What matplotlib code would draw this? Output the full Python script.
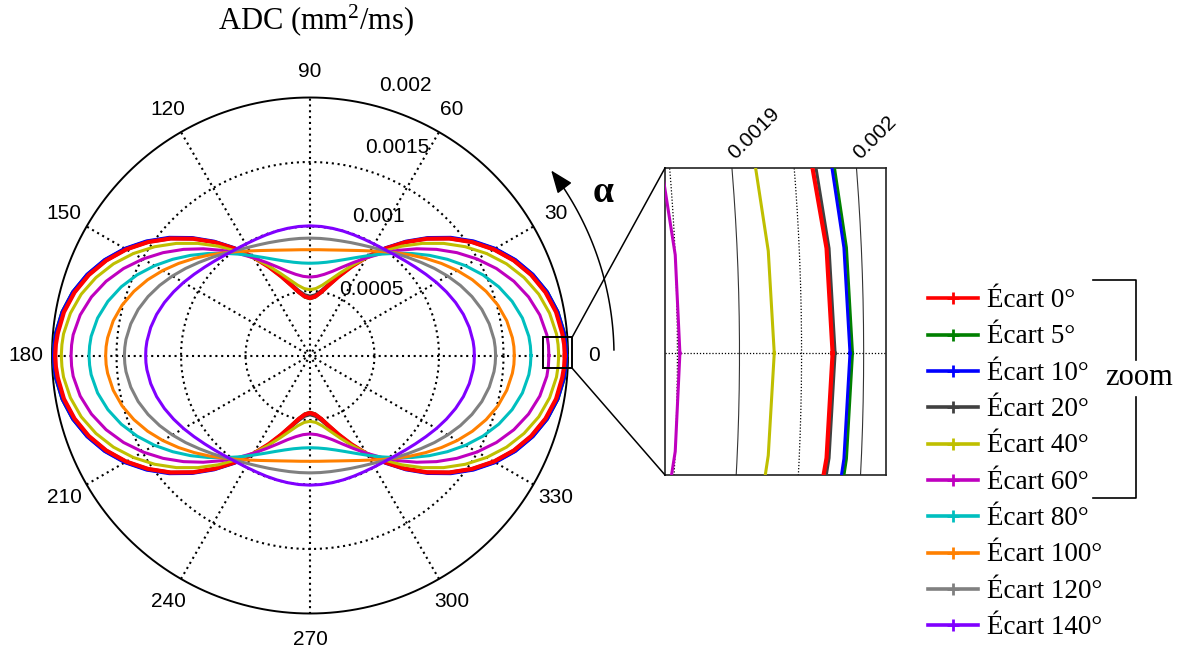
import numpy as np
import matplotlib
matplotlib.use("Agg")
import matplotlib.pyplot as plt
from matplotlib.patches import FancyArrowPatch, Rectangle
from matplotlib.path import Path
from matplotlib import transforms as mtrans

plt.rcParams["mathtext.fontset"] = "custom"
plt.rcParams["mathtext.rm"] = "Liberation Serif"
plt.rcParams["mathtext.it"] = "Liberation Serif:italic"
plt.rcParams["mathtext.bf"] = "Liberation Serif:bold"

# ---------------------------------------------------------------------------
# Data: ADC profiles versus the orientation angle alpha, one quadrant
# (the profiles are symmetric about both axes). Values in 1e-4 mm^2/ms.
# ---------------------------------------------------------------------------
UNIT = 1e-4
alpha_deg = [0, 2.5, 5, 10, 15, 20, 25, 30, 35, 40, 45, 50, 55, 60, 65, 70, 75, 80, 85, 90]

labels = ["Écart 0°", "Écart 5°", "Écart 10°", "Écart 20°", "Écart 40°",
          "Écart 60°", "Écart 80°", "Écart 100°", "Écart 120°", "Écart 140°"]

adc_ecart0 = [19.75, 19.72, 19.63, 19.37, 18.90, 18.25, 17.43, 16.45, 15.33, 14.11, 12.80,
              11.45, 10.10, 8.80, 7.59, 6.53, 5.65, 4.99, 4.59, 4.45]
adc_ecart5 = [19.91, 19.88, 19.81, 19.52, 19.05, 18.38, 17.55, 16.56, 15.43, 14.18, 12.86,
              11.49, 10.12, 8.80, 7.58, 6.50, 5.61, 4.95, 4.54, 4.40]
adc_ecart10 = [19.89, 19.86, 19.79, 19.51, 19.05, 18.40, 17.58, 16.60, 15.48, 14.25, 12.93,
               11.57, 10.20, 8.88, 7.65, 6.57, 5.67, 5.00, 4.59, 4.45]
adc_ecart20 = [19.77, 19.74, 19.66, 19.38, 18.90, 18.24, 17.41, 16.43, 15.31, 14.08, 12.79,
               11.45, 10.12, 8.84, 7.66, 6.62, 5.77, 5.13, 4.73, 4.60]
adc_ecart40 = [19.28, 19.25, 19.18, 18.86, 18.36, 17.66, 16.81, 15.81, 14.70, 13.52, 12.29,
               11.06, 9.85, 8.72, 7.69, 6.80, 6.08, 5.54, 5.21, 5.10]
adc_ecart60 = [18.52, 18.50, 18.43, 18.09, 17.54, 16.82, 15.95, 14.96, 13.90, 12.80, 11.70,
               10.64, 9.64, 8.74, 7.95, 7.29, 6.76, 6.39, 6.16, 6.08]
adc_ecart80 = [17.13, 17.10, 17.03, 16.72, 16.22, 15.57, 14.79, 13.92, 13.00, 12.08, 11.18,
               10.34, 9.59, 8.93, 8.37, 7.92, 7.58, 7.34, 7.20, 7.15]
adc_ecart100 = [15.84, 15.82, 15.75, 15.49, 15.08, 14.53, 13.89, 13.18, 12.44, 11.71, 11.02,
                10.39, 9.83, 9.36, 8.98, 8.68, 8.46, 8.31, 8.23, 8.20]
adc_ecart120 = [14.39, 14.37, 14.32, 14.11, 13.79, 13.36, 12.86, 12.32, 11.77, 11.23, 10.75,
                10.32, 9.96, 9.67, 9.46, 9.31, 9.20, 9.14, 9.11, 9.10]
adc_ecart140 = [12.74, 12.73, 12.69, 12.54, 12.31, 12.01, 11.67, 11.32, 10.97, 10.66, 10.40,
                10.19, 10.05, 9.97, 9.94, 9.95, 9.98, 10.01, 10.04, 10.05]

series = [adc_ecart0, adc_ecart5, adc_ecart10, adc_ecart20, adc_ecart40,
          adc_ecart60, adc_ecart80, adc_ecart100, adc_ecart120, adc_ecart140]

colors = ["#ff0000", "#008000", "#0000ff", "#404040", "#bfbf00",
          "#bf00bf", "#00bfbf", "#ff8000", "#808080", "#8000ff"]
widths = [3.0, 2.2, 2.2, 2.2, 2.2, 2.2, 2.2, 2.2, 2.2, 2.2]
# red is drawn above the nearly coincident 5/10/20 degree curves
draw_order = [1, 2, 3, 0, 4, 5, 6, 7, 8, 9]

ring_values = [0.0005, 0.001, 0.0015, 0.002]
ring_labels = ["0.0005", "0.001", "0.0015", "0.002"]
angle_ticks = list(range(0, 360, 30))

inset_rings_solid = [0.0019, 0.002]
inset_rings_dotted = [0.00185, 0.00195]
inset_tick_labels = ["0.0019", "0.002"]


def full_profile(quarter_deg, quarter_r):
    """Unfold a 0-90 degree profile to the whole circle using its symmetries."""
    a = np.asarray(quarter_deg, float)
    r = np.asarray(quarter_r, float) * UNIT
    th = np.concatenate([a, 180 - a[::-1][1:], 180 + a[1:], 360 - a[::-1][1:]])
    rr = np.concatenate([r, r[::-1][1:], r[1:], r[::-1][1:]])
    t = np.deg2rad(th)
    return rr * np.cos(t), rr * np.sin(t)


# ---------------------------------------------------------------------------
W, H = 1184, 655
fig = plt.figure(figsize=(W / 100, H / 100), dpi=100)

SANS = ["Liberation Sans", "DejaVu Sans"]
SERIF = ["Liberation Serif", "DejaVu Serif"]

# polar diagram drawn on an equal-scale cartesian axes spanning the figure
CX, CY = 310.0, 355.5          # centre in pixels (from top-left)
RMAX = ring_values[-1]
S = 258.0 / RMAX               # pixels per mm^2/ms
ax = fig.add_axes([0, 0, 1, 1])
ax.set_xlim(-CX / S, (W - CX) / S)
ax.set_ylim(-(H - CY) / S, CY / S)
ax.axis("off")

dotted = (0, (1.0, 1.8))
circ = np.linspace(0, 2 * np.pi, 721)
for rv in ring_values[:-1]:
    ax.plot(rv * np.cos(circ), rv * np.sin(circ), color="k", lw=1.5,
            linestyle=dotted, zorder=1)
ax.plot(RMAX * np.cos(circ), RMAX * np.sin(circ), color="k", lw=1.4, zorder=1)
for ang in range(0, 180, 30):
    t = np.deg2rad(ang)
    ax.plot([-RMAX * np.cos(t), RMAX * np.cos(t)],
            [-RMAX * np.sin(t), RMAX * np.sin(t)],
            color="k", lw=1.5, linestyle=dotted, zorder=1)

for ang in angle_ticks:
    t = np.deg2rad(ang)
    ax.text(1.1 * RMAX * np.cos(t), 1.1 * RMAX * np.sin(t), str(ang),
            ha="center", va="center", fontsize=15, family=SANS)

# radial labels (pixel centres)
ring_label_px = [(371, 289.5), (378, 216.5), (397, 147.5), (405, 85.5)]
for (px_, py_), lab in zip(ring_label_px, ring_labels):
    ax.text((px_ - CX) / S, (CY - py_) / S, lab, ha="center", va="center",
            fontsize=15, family=SANS, zorder=5)

curves = [full_profile(alpha_deg, s) for s in series]
for k, i in enumerate(draw_order):
    x, y = curves[i]
    ax.plot(x, y, color=colors[i], lw=widths[i], zorder=3 + k,
            solid_joinstyle="round")

# rotation arrow for alpha
RA = 304.0 / S
arc_t = np.deg2rad(np.linspace(1.0, 37.5, 80))
arc = Path(np.column_stack([RA * np.cos(arc_t), RA * np.sin(arc_t)]))
ax.add_patch(FancyArrowPatch(path=arc, arrowstyle="-|>,head_length=1.4,head_width=0.55",
                             mutation_scale=10, color="k", lw=1.1, zorder=20))
ax.text((603 - CX) / S, (CY - 193) / S, "α", ha="center", va="center",
        fontsize=27, fontweight="bold", family=SERIF)

ax.text((316 - CX) / S, (CY - 20) / S, r"ADC (mm$^{\mathregular{2}}$/ms)",
        ha="center", va="center", fontsize=22, family=SERIF)

# ---------------------------------------------------------------------------
# zoomed view around alpha = 0
IX0, IY0, IW, IH = 665, 168, 221, 307
ax_in = fig.add_axes([IX0 / W, 1 - (IY0 + IH) / H, IW / W, IH / H])
xlim_in = (0.001840, 0.002018)
ylim_in = (-0.000100, 0.000152)
ax_in.set_xlim(*xlim_in)
ax_in.set_ylim(*ylim_in)
ax_in.set_xticks([])
ax_in.set_yticks([])
for sp in ax_in.spines.values():
    sp.set_linewidth(1.2)
    sp.set_color("#222222")

arc_in = np.deg2rad(np.linspace(-12, 12, 200))
for rv in inset_rings_solid:
    ax_in.plot(rv * np.cos(arc_in), rv * np.sin(arc_in), color="#333333", lw=0.8)
for rv in inset_rings_dotted:
    ax_in.plot(rv * np.cos(arc_in), rv * np.sin(arc_in), color="k", lw=0.9,
               linestyle=(0, (1, 1.5)))
ax_in.plot(xlim_in, [0, 0], color="k", lw=0.9, linestyle=(0, (1, 1.5)))
for k, i in enumerate(draw_order):
    x, y = curves[i]
    ax_in.plot(x, y, color=colors[i], lw=widths[i], zorder=3 + k)

for rv, lab in zip(inset_rings_solid, inset_tick_labels):
    xt = np.sqrt(rv ** 2 - ylim_in[1] ** 2)
    tr = mtrans.offset_copy(ax_in.transData, fig=fig, x=2.5, y=5.5, units="points")
    ax_in.text(xt, ylim_in[1], lab, transform=tr, rotation=45,
               rotation_mode="anchor", ha="left", va="baseline",
               fontsize=15, family=SANS, clip_on=False)

# ---------------------------------------------------------------------------
# overlay in pixel coordinates: zoom box, connectors, legend, bracket
ov = fig.add_axes([0, 0, 1, 1], zorder=10)
ov.set_xlim(0, W)
ov.set_ylim(H, 0)
ov.axis("off")
ov.patch.set_alpha(0)

# marker box around the zoomed region (slightly padded around the inset limits)
rx0 = CX + xlim_in[0] * S - 4
rx1 = CX + xlim_in[1] * S + 2
ry0 = CY - ylim_in[1] * S + 1
ry1 = CY - ylim_in[0] * S
ov.add_patch(Rectangle((rx0, ry0), rx1 - rx0, ry1 - ry0, fill=False,
                       edgecolor="k", lw=1.4))
ov.plot([rx1, IX0], [ry0, IY0], color="k", lw=1.1)
ov.plot([rx1, IX0], [ry1, IY0 + IH], color="k", lw=1.1)

LEG_Y0, LEG_DY = 298.3, 36.35
for i, lab in enumerate(labels):
    yy = LEG_Y0 + i * LEG_DY
    ov.plot([928, 978], [yy, yy], color=colors[i], lw=2.6)
    ov.plot([953], [yy], marker="+", color=colors[i], markersize=9, mew=2.0)
    ov.text(987, yy + 8.5, lab, ha="left", va="baseline", fontsize=19.5, family=SERIF)

ov.plot([1093, 1136, 1136], [280, 280, 360], color="k", lw=1.2)
ov.plot([1093, 1136, 1136], [498, 498, 397], color="k", lw=1.2)
ov.text(1139, 385, "zoom", ha="center", va="baseline", fontsize=22, family=SERIF)

fig.savefig("out.png", dpi=100)
